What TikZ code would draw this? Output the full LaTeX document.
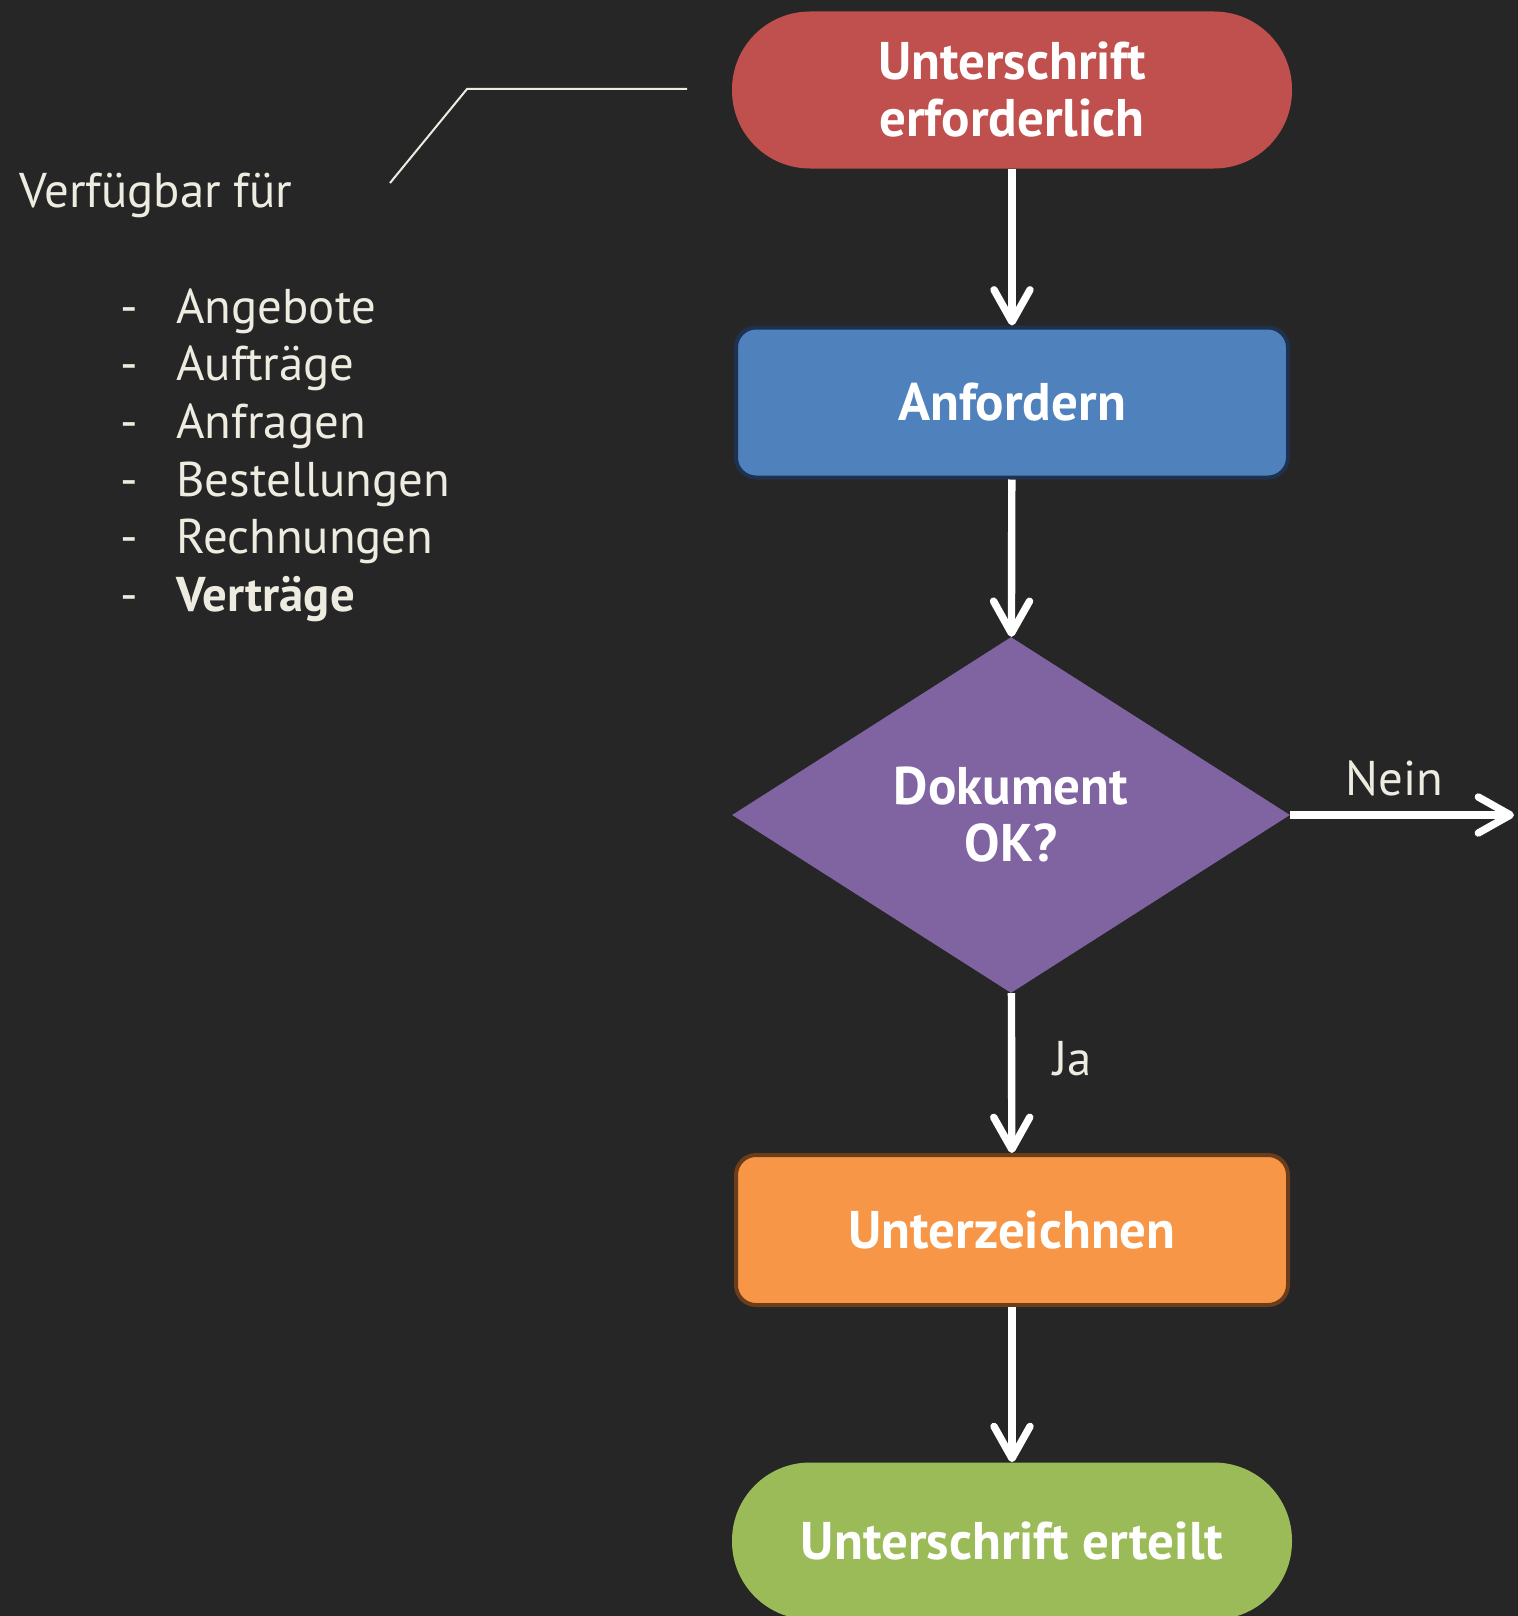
\documentclass[tikz,border=0pt]{standalone}
\usepackage{fontspec}
\setmainfont{PT Sans}
\usetikzlibrary{shapes.geometric,arrows.meta}

\definecolor{bgdark}{HTML}{262626}
\definecolor{notecream}{HTML}{EEECE1}
\definecolor{startred}{HTML}{C0504D}
\definecolor{stepblue}{HTML}{4F81BD}
\definecolor{stepblueedge}{HTML}{1E3250}
\definecolor{askpurple}{HTML}{8064A2}
\definecolor{signorange}{HTML}{F79646}
\definecolor{signorangeedge}{HTML}{6B3D1B}
\definecolor{endgreen}{HTML}{9BBB59}

\tikzset{
  flow/.style={text=white, font=\bfseries\fontsize{26.5}{28.5}\selectfont, align=center, inner sep=0pt},
  terminal/.style={flow, rectangle, rounded corners=39pt, minimum width=280pt, minimum height=78.5pt},
  process/.style={flow, rectangle, rounded corners=10pt, line width=2pt, minimum width=276pt, minimum height=75pt},
  decision/.style={flow, diamond, minimum width=279pt, minimum height=178pt},
  link/.style={draw=white, line width=3.7pt, -{Straight Barb[length=16pt,width=18pt,line cap=round,line join=round]}},
  note/.style={text=notecream, font=\fontsize{24.4}{29}\selectfont, inner sep=0pt, anchor=base west},
}

\begin{document}
\begin{tikzpicture}[x=0.5pt, y=-0.5pt]
\fill[bgdark] (0,0) rectangle (1518,1616);
\useasboundingbox (0,0) rectangle (1518,1616);

% flow
\node[terminal, fill=startred] (start) at (1012,90) {Unterschrift\\erforderlich};
\node[process, fill=stepblue, draw=stepblueedge] (anfordern) at (1012,402.5) {Anfordern};
\node[decision, fill=askpurple] (pruefen) at (1011,815) {Dokument\\OK?};
\node[process, fill=signorange, draw=signorangeedge] (zeichnen) at (1012,1230) {Unterzeichnen};
\node[terminal, fill=endgreen] (ende) at (1012,1541) {Unterschrift erteilt};
\coordinate (nein) at (1514,815);

\draw[link] (start) -- (anfordern);
\draw[link] (anfordern) -- (pruefen);
\draw[link] (pruefen) -- (zeichnen);
\draw[link] (zeichnen) -- (ende);
\draw[link] (pruefen.east) -- (nein);
\node[note] (neinlabel) at (1345,795) {Nein};
\node[note] (jalabel) at (1053,1075) {Ja};

% note on the left
\node[note] (avail) at (19,207) {Verfügbar für};
\foreach \i/\item in {0/Angebote, 1/Aufträge, 2/Anfragen, 3/Bestellungen, 4/Rechnungen, 5/\textbf{Verträge}} {
  \node[note] (dash\i) at (120,323+57.7*\i) {-};
  \node[note] (item\i) at (176,323+57.7*\i) {\item};
}
\coordinate (callA) at (390,183);
\coordinate (callB) at (467,89);
\coordinate (callC) at (687,89);
\draw[notecream, line width=1pt] (callA) -- (callB) -- (callC);
\end{tikzpicture}
\end{document}
